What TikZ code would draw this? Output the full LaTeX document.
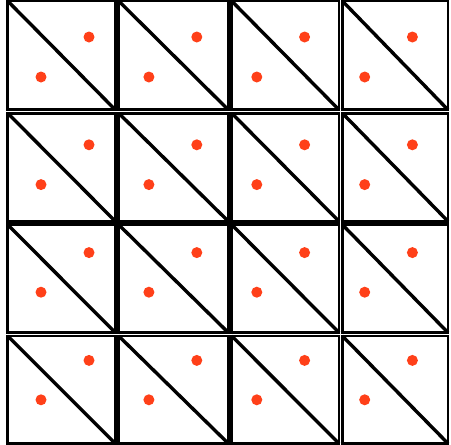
\documentclass[tikz,border=0pt]{standalone}
\usepackage{tikz}

\begin{document}
\begin{tikzpicture}[
  x=1pt, y=-1pt,
  cell/.style={draw, line width=2.8pt},
  diag/.style={draw, line width=3.4pt},
  dot/.style={fill=dotred, draw=none}
]
\definecolor{dotred}{RGB}{255,64,25}
\useasboundingbox (0,0) rectangle (451,445);
% cells with their diagonals
\foreach \xa/\xb [count=\i] in {7.7/115.3, 118.7/228.3, 231.7/339, 342.4/448} {
  \foreach \ya/\yb [count=\j] in {1/109.8, 113.2/221.3, 224.7/332.6, 336/443.5} {
    \coordinate (tl\i\j) at (\xa,\ya);
    \coordinate (br\i\j) at (\xb,\yb);
    \draw[cell] (tl\i\j) rectangle (br\i\j);
    \draw[diag] (tl\i\j) -- (br\i\j);
  }
}
% dots
\foreach \i in {0,...,3} {
  \foreach \j in {0,...,3} {
    \fill[dot] ({89+107.8*\i},{37+107.8*\j}) circle[radius=5.5pt];
    \fill[dot] ({41+107.9*\i},{77+107.6*\j}) circle[radius=5.5pt];
  }
}
\end{tikzpicture}
\end{document}
